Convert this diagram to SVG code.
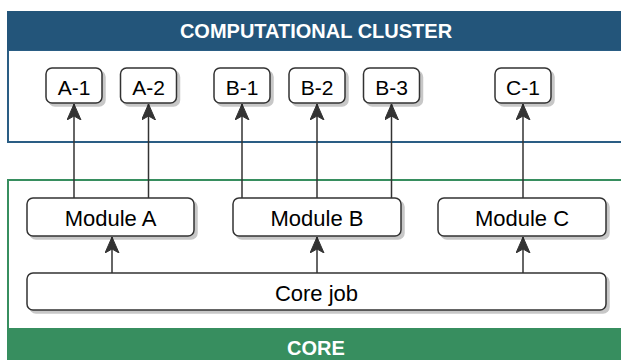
<svg xmlns="http://www.w3.org/2000/svg" width="621" height="360" viewBox="0 0 621 360">
<style>
.node rect{fill:#ffffff;stroke:#333333;stroke-width:1.5;filter:url(#sh)}
.node text{font-family:"Liberation Sans",Arial,sans-serif;font-size:22px;fill:#000000;text-anchor:middle}
.node.small text{font-size:21px}
.title{font-family:"Liberation Sans",Arial,sans-serif;font-size:20px;font-weight:bold;fill:#ffffff;text-anchor:middle}
.edge{stroke:#333333;stroke-width:1.5;fill:none;marker-end:url(#arr)}
</style>
<defs>
<filter id="sh" x="-10%" y="-20%" width="130%" height="150%">
<feOffset in="SourceAlpha" dx="3" dy="3" result="o"/>
<feFlood flood-color="#000000" flood-opacity="0.22"/>
<feComposite in2="o" operator="in" result="s"/>
<feMerge><feMergeNode in="s"/><feMergeNode in="SourceGraphic"/></feMerge>
</filter>
<marker id="arr" markerUnits="userSpaceOnUse" markerWidth="18" markerHeight="16" refX="16" refY="7" orient="auto" viewBox="0 0 18 16">
<path d="M16,7 L0,0 L4,7 L0,14 Z" fill="#333333" stroke="#333333" stroke-width="1"/>
</marker>
</defs>
<g id="cluster">
<rect x="8" y="50" width="620" height="92" fill="#ffffff" stroke="#2a5d84" stroke-width="2"/>
<rect x="7" y="11" width="620" height="39" fill="#23557a"/>
<text class="title" x="316" y="37.5">COMPUTATIONAL CLUSTER</text>
</g>
<g id="core">
<rect x="8" y="180" width="620" height="190" fill="#ffffff" stroke="#378e5f" stroke-width="2"/>
<rect x="7" y="328" width="620" height="40" fill="#378e5f"/>
<text class="title" x="316" y="355">CORE</text>
</g>
<g id="connectors">
<line class="edge" x1="112" y1="273" x2="112" y2="237"/>
<line class="edge" x1="317" y1="273" x2="317" y2="237"/>
<line class="edge" x1="523" y1="273" x2="523" y2="237"/>
<line class="edge" x1="74" y1="198" x2="74" y2="104"/>
<line class="edge" x1="148.5" y1="198" x2="148.5" y2="104"/>
<line class="edge" x1="242" y1="198" x2="242" y2="104"/>
<line class="edge" x1="317" y1="198" x2="317" y2="104"/>
<line class="edge" x1="391.5" y1="198" x2="391.5" y2="104"/>
<line class="edge" x1="523" y1="198" x2="523" y2="104"/>
</g>
<g id="A-1" class="node small"><rect x="46" y="68" width="56" height="35" rx="6"/><text x="74" y="95">A-1</text></g>
<g id="A-2" class="node small"><rect x="120.5" y="68" width="56" height="35" rx="6"/><text x="148.5" y="95">A-2</text></g>
<g id="B-1" class="node small"><rect x="214" y="68" width="56" height="35" rx="6"/><text x="242" y="95">B-1</text></g>
<g id="B-2" class="node small"><rect x="289" y="68" width="56" height="35" rx="6"/><text x="317" y="95">B-2</text></g>
<g id="B-3" class="node small"><rect x="363.5" y="68" width="56" height="35" rx="6"/><text x="391.5" y="95">B-3</text></g>
<g id="C-1" class="node small"><rect x="495" y="68" width="56" height="35" rx="6"/><text x="523" y="95">C-1</text></g>
<g id="module-a" class="node"><rect x="27" y="198" width="167" height="38" rx="6"/><text x="110.5" y="225.5">Module A</text></g>
<g id="module-b" class="node"><rect x="233" y="198" width="168" height="38" rx="6"/><text x="317" y="225.5">Module B</text></g>
<g id="module-c" class="node"><rect x="438" y="198" width="168" height="38" rx="6"/><text x="522" y="225.5">Module C</text></g>
<g id="core-job" class="node"><rect x="27" y="273" width="579" height="37" rx="6"/><text x="316.5" y="301">Core job</text></g>
</svg>
